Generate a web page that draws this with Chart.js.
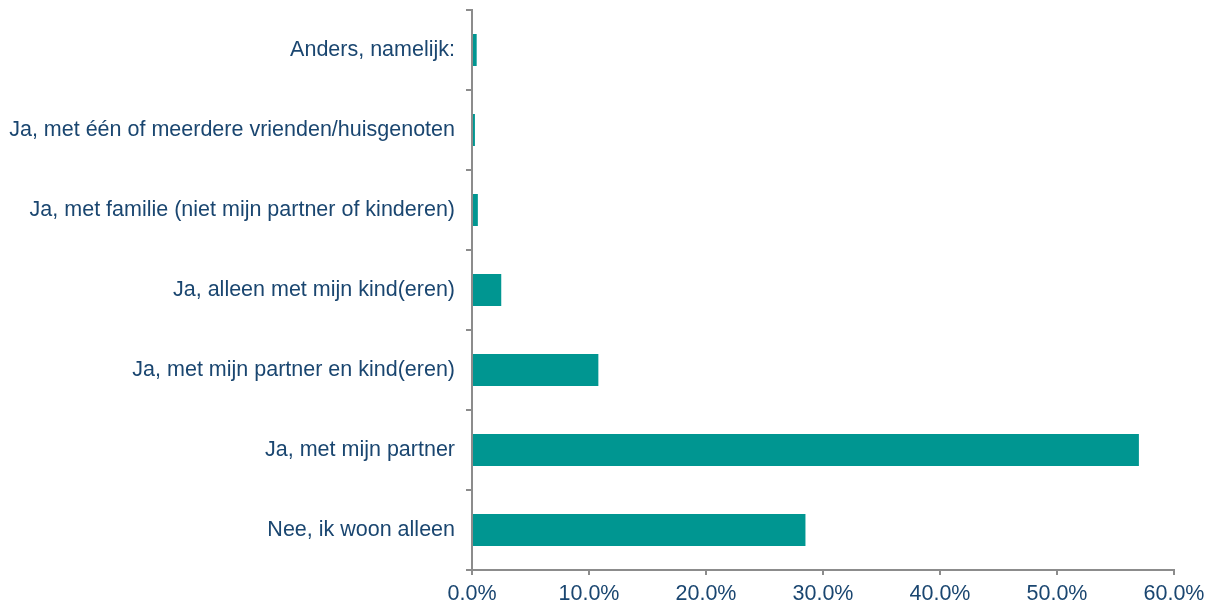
<!DOCTYPE html>
<html><head><meta charset="utf-8">
<script src="https://cdn.jsdelivr.net/npm/chart.js@4/dist/chart.umd.min.js"></script>
<style>html,body{margin:0;padding:0;background:#fff}#wrap{width:1208px;height:604px}</style>
</head><body><div id="wrap"><canvas id="c" width="1208" height="604"></canvas></div>
<script>
const categories = [
  "Anders, namelijk:",
  "Ja, met één of meerdere vrienden/huisgenoten",
  "Ja, met familie (niet mijn partner of kinderen)",
  "Ja, alleen met mijn kind(eren)",
  "Ja, met mijn partner en kind(eren)",
  "Ja, met mijn partner",
  "Nee, ik woon alleen"
];
const values = [0.4, 0.25, 0.5, 2.5, 10.8, 57.0, 28.5];
const xTicks = [0, 10, 20, 30, 40, 50, 60];

const textColor = '#1A4670';
const axisColor = '#8C8C8C';
Chart.defaults.font.family = '"Liberation Sans", Arial, sans-serif';
Chart.defaults.font.size = 21.5;
Chart.defaults.color = textColor;

new Chart(document.getElementById('c'), {
  type: 'bar',
  data: { labels: categories, datasets: [{ data: values, backgroundColor: '#009691', borderWidth: 0, barPercentage: 0.4, categoryPercentage: 1 }] },
  options: {
    indexAxis: 'y', responsive: false, animation: false,
    layout: { padding: { top: 0, right: 34, left: 0, bottom: 0 } },
    plugins: { legend: { display: false }, tooltip: { enabled: false } },
    scales: {
      x: {
        min: 0, max: 60,
        afterBuildTicks: s => { s.ticks = xTicks.map(v => ({ value: v })); },
        afterFit: s => { s.height = 34; s.paddingRight = 0; s.paddingLeft = 0; },
        border: { color: axisColor, width: 2 },
        grid: { drawOnChartArea: false, drawTicks: true, tickLength: 5, color: axisColor, lineWidth: 2 },
        ticks: { padding: 6, color: textColor, callback: v => v.toFixed(1) + '%', maxRotation: 0 }
      },
      y: {
        afterFit: s => { s.width = 472; s.paddingTop = 10; s.paddingBottom = 0; },
        border: { color: axisColor, width: 2 },
        grid: { offset: true, drawOnChartArea: false, tickLength: 6, color: axisColor, lineWidth: 2 },
        ticks: { padding: 11, color: textColor, autoSkip: false }
      }
    }
  }
});
</script></body></html>
